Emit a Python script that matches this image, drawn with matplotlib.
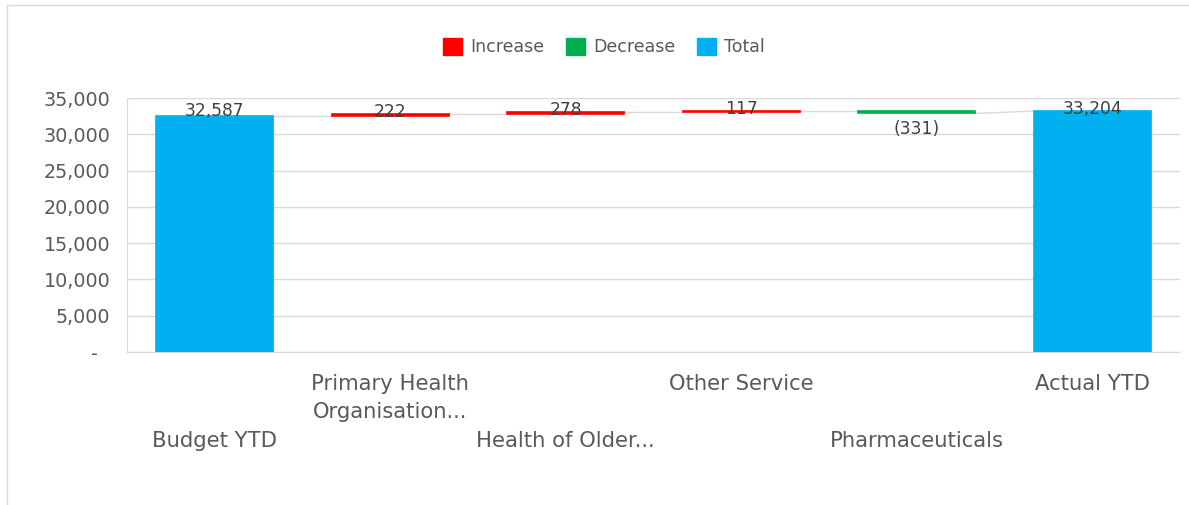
import numpy as np
import matplotlib.pyplot as plt
from matplotlib.patches import Patch, Rectangle

plt.rcParams['font.family'] = 'DejaVu Sans'

# Waterfall data
categories = ['Budget YTD', 'Primary Health\nOrganisation...', 'Health of Older...',
              'Other Service', 'Pharmaceuticals', 'Actual YTD']
values = [32587, 222, 278, 117, -331, 33204]
kinds = ['total', 'delta', 'delta', 'delta', 'delta', 'total']
value_labels = ['32,587', '222', '278', '117', '(331)', '33,204']

c_inc = '#FF0000'
c_dec = '#00B050'
c_tot = '#00B0F0'
grid_c = '#D9D9D9'
text_c = '#595959'
label_c = '#404040'

# running totals -> bar bottoms / heights
bottoms, heights, colors, starts, ends = [], [], [], [], []
running = 0
for v, k in zip(values, kinds):
    if k == 'total':
        bottoms.append(0)
        heights.append(v)
        colors.append(c_tot)
        starts.append(v)
        ends.append(v)
        running = v
    else:
        start = running
        running += v
        bottoms.append(min(start, running))
        heights.append(abs(v))
        colors.append(c_inc if v > 0 else c_dec)
        starts.append(start)
        ends.append(running)

fig = plt.figure(figsize=(11.89, 5.05), dpi=100)
ax = fig.add_axes([127 / 1189, 1 - 352 / 505, 1053 / 1189, 254 / 505])

x = np.arange(len(categories))
w = 0.667
ax.bar(x, heights, bottom=bottoms, width=w, color=colors,
       edgecolor=colors, linewidth=1.2, zorder=3)

# connector lines between neighbouring bars
for i in range(len(x) - 1):
    ax.plot([x[i] + w / 2, x[i + 1] - w / 2], [ends[i], starts[i + 1]],
            color=grid_c, lw=1, zorder=2)

# value labels
for i, (v, lab) in enumerate(zip(values, value_labels)):
    top = bottoms[i] + heights[i]
    if v >= 0:
        off = 0 if kinds[i] == 'total' and i == 0 else -2
        ax.annotate(lab, (x[i], top), xytext=(0, off), textcoords='offset points',
                    ha='center', va='baseline', fontsize=12.3, color=label_c, zorder=4)
    else:
        ax.annotate(lab, (x[i], bottoms[i]), xytext=(0, -5), textcoords='offset points',
                    ha='center', va='top', fontsize=12.3, color=label_c, zorder=4)

ax.set_xlim(-0.5, len(x) - 0.5)
ax.set_ylim(0, 35000)
yt = np.arange(0, 35001, 5000)
ax.set_yticks(yt)
ax.set_yticklabels(['-  '] + [f'{t:,}' for t in yt[1:]])
ax.tick_params(axis='y', length=0, pad=12, labelsize=13.8, labelcolor=text_c)

ax.set_xticks(x)
ax.set_xticklabels(categories, fontsize=15.2, color=text_c, linespacing=1.5)
ax.tick_params(axis='x', length=0)
# staggered category labels
for i, t in enumerate(ax.xaxis.get_major_ticks()):
    t.set_pad(15.5 if i % 2 else 57)

ax.grid(axis='y', color=grid_c, lw=1, zorder=0)
ax.set_axisbelow(True)
for s in ['top', 'right']:
    ax.spines[s].set_visible(False)
for s in ['left', 'bottom']:
    ax.spines[s].set_color(grid_c)

handles = [Patch(color=c_inc, label='Increase'),
           Patch(color=c_dec, label='Decrease'),
           Patch(color=c_tot, label='Total')]
fig.legend(handles=handles, loc='center', bbox_to_anchor=(604 / 1189, 1 - 47 / 505),
           ncol=3, frameon=False, fontsize=12.5, labelcolor=text_c,
           handlelength=1.1, handleheight=1.1, handletextpad=0.5, columnspacing=1.2)

# outer chart frame
fig.add_artist(Rectangle((7 / 1189, -0.5), 2, 0.5 + 1 - 5 / 505, transform=fig.transFigure,
                         fill=False, edgecolor=grid_c, lw=1))

fig.savefig('out.png', dpi=100)
